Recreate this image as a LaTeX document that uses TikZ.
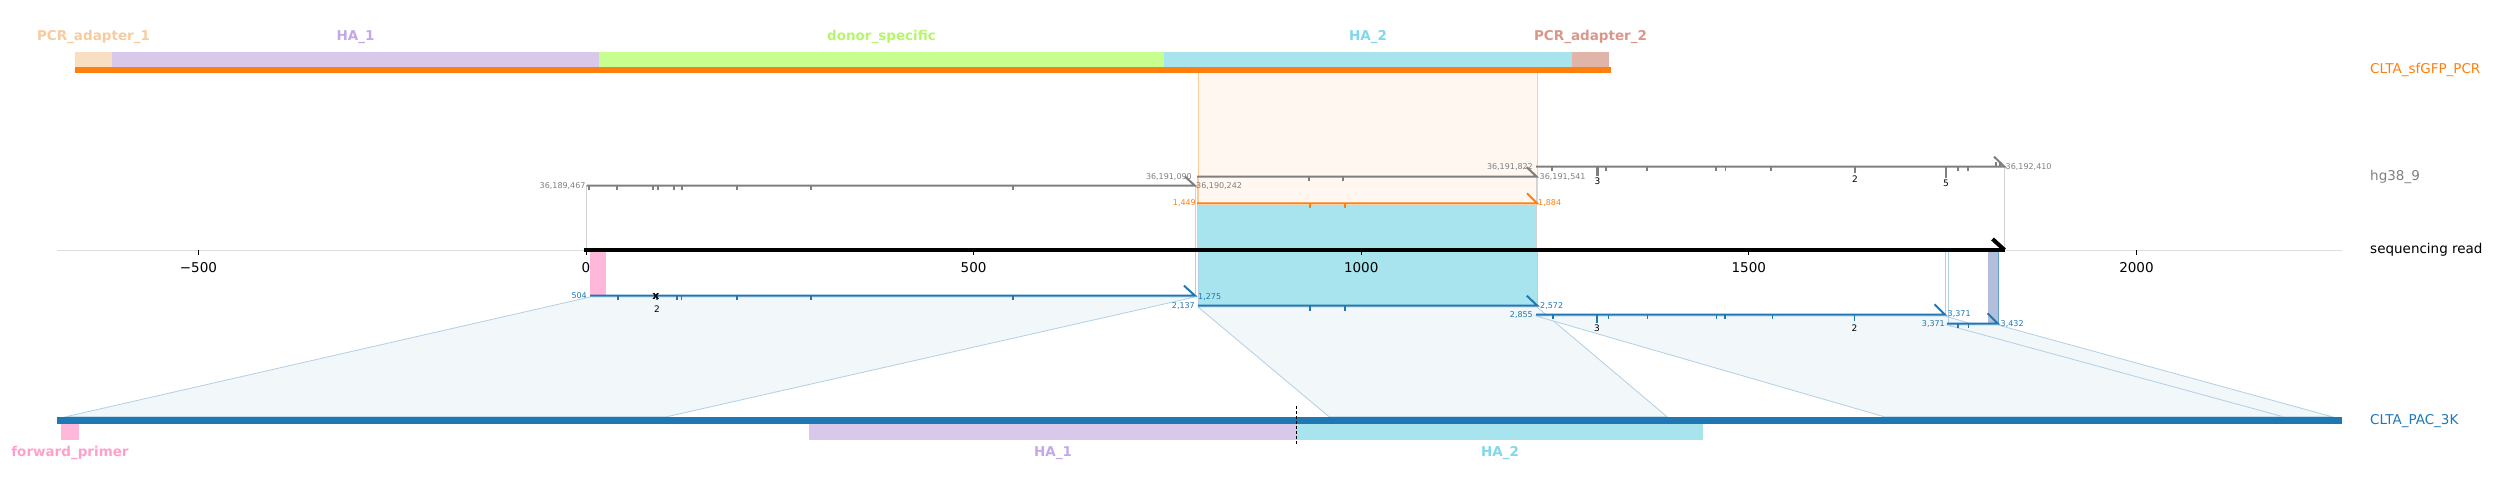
\documentclass[tikz,border=0pt]{standalone}
\usepackage{fontspec}
\setmainfont{DejaVu Sans}
\usetikzlibrary{positioning}

\definecolor{pcrorange}{HTML}{FF7F0E}
\definecolor{pacblue}{HTML}{1F77B4}
\definecolor{hggrey}{HTML}{7F7F7F}
\definecolor{adapter_one}{HTML}{F9DFC1}
\definecolor{adapter_one_txt}{HTML}{F8CB9E}
\definecolor{ha_one}{HTML}{D8C8EA}
\definecolor{ha_one_txt}{HTML}{C4A8E6}
\definecolor{donor}{HTML}{C6FF90}
\definecolor{donor_txt}{HTML}{B6F56C}
\definecolor{ha_two}{HTML}{A8E4EE}
\definecolor{ha_two_txt}{HTML}{80D8E8}
\definecolor{adapter_two}{HTML}{E0B4A9}
\definecolor{adapter_two_txt}{HTML}{D9978B}
\definecolor{primer}{HTML}{FFB8DA}
\definecolor{primer_txt}{HTML}{FFA0CC}
\definecolor{rev_box}{HTML}{B3BEDC}

\begin{document}
\begin{tikzpicture}[x=1pt, y=-1pt]
% How to define the looks used below
\tikzstyle{hg_line} = [draw=hggrey, line width=2pt]
\tikzstyle{pcr_line} = [draw=pcrorange, line width=2pt]
\tikzstyle{pac_line} = [draw=pacblue, line width=2pt]
\tikzstyle{hg_tick} = [draw=hggrey, line width=1.6pt]
\tikzstyle{pcr_tick} = [draw=pcrorange, line width=1.6pt]
\tikzstyle{pac_tick} = [draw=pacblue, line width=1.6pt]
\tikzstyle{small_label} = [font=\fontsize{8}{8}\selectfont, inner sep=1pt]
\tikzstyle{count_label} = [font=\fontsize{9}{9}\selectfont, inner sep=0pt]
\tikzstyle{feat_label} = [font=\bfseries\fontsize{13.5}{14}\selectfont, inner sep=0pt]
\tikzstyle{track_label} = [font=\fontsize{13.5}{14}\selectfont, anchor=west, inner sep=0pt]
\tikzstyle{axis_label} = [font=\fontsize{13.5}{14}\selectfont, inner sep=0pt]
\tikzstyle{guide_grey} = [draw=black!18, line width=0.8pt]
\tikzstyle{guide_blue} = [draw=pacblue!35, line width=0.8pt]
\tikzstyle{band} = [fill=pacblue!6, draw=pacblue!35, line width=0.8pt]

\useasboundingbox (0,0) rectangle (2496,492);

% Start with the shaded bands
\fill[pcrorange!6] (1198,73) rectangle (1537,203.3);
\draw[draw=pcrorange!40, line width=0.8pt] (1198,73) -- (1198,203.3);
\draw[draw=pcrorange!40, line width=0.8pt] (1537,73) -- (1537,203.3);

\coordinate (pac_a_l) at (590,297);
\coordinate (pac_a_r) at (1195,297);
\coordinate (pac_b_l) at (1198,307);
\coordinate (pac_b_r) at (1537,307);
\coordinate (pac_c_l) at (1536,316);
\coordinate (pac_c_r) at (1945,316);
\coordinate (pac_d_l) at (1947,325);
\coordinate (pac_d_r) at (1998,325);
\coordinate (bar_a_l) at (66,416.7);
\coordinate (bar_a_r) at (667,416.7);
\coordinate (bar_b_l) at (1329,416.7);
\coordinate (bar_b_r) at (1667,416.7);
\coordinate (bar_c_l) at (1884,416.7);
\coordinate (bar_c_r) at (2283,416.7);
\coordinate (bar_d_r) at (2332,416.7);

\draw[band] (pac_a_l) -- (pac_a_r) -- (bar_a_r) -- (bar_a_l) -- cycle;
\draw[band] (pac_b_l) -- (pac_b_r) -- (bar_b_r) -- (bar_b_l) -- cycle;
\draw[band] (pac_c_l) -- (pac_c_r) -- (bar_c_r) -- (bar_c_l) -- cycle;
\draw[band] (pac_d_l) -- (pac_d_r) -- (bar_d_r) -- (bar_c_r) -- cycle;

% Feature boxes on the read
\fill[primer] (590,252) rectangle (605.6,295.7);
\fill[ha_two] (1198,205) rectangle (1537,305.7);
\fill[rev_box] (1988,252) rectangle (1998,323.7);

% Thin guides from the alignments to the read
\draw[guide_grey] (586.7,185.7) -- (586.7,250);
\draw[guide_grey] (1195,185.7) -- (1195,250);
\draw[guide_grey] (1197,176.7) -- (1197,250);
\draw[guide_grey] (1536.7,176.7) -- (1536.7,250);
\draw[guide_grey] (2004.5,166.7) -- (2004.5,250);
\draw[guide_blue] (1195,250) -- (1195,295.7);
\draw[guide_blue] (1198,250) -- (1198,305.7);
\draw[guide_blue] (1537,250) -- (1537,305.7);
\draw[guide_blue] (1945,250) -- (1945,314.7);
\draw[guide_blue] (1948.5,250) -- (1948.5,323.7);
\draw[draw=pacblue!70, line width=0.8pt] (1998,252) -- (1998,323.7);

% Top construct
\fill[adapter_one] (75,52) rectangle (112,67);
\fill[ha_one] (112,52) rectangle (599,67);
\fill[donor] (599,52) rectangle (1164,67);
\fill[ha_two] (1164,52) rectangle (1572,67);
\fill[adapter_two] (1572,52) rectangle (1609,67);
\fill[pcrorange] (75,66.7) rectangle (1611,72.7);

\node (adapter_one_lab) [feat_label, text=adapter_one_txt] at (93.5,37) {PCR\_adapter\_1};
\node (ha_one_lab) [feat_label, text=ha_one_txt] at (355.5,37) {HA\_1};
\node (donor_lab) [feat_label, text=donor_txt] at (881.5,37) {donor\_specific};
\node (ha_two_lab) [feat_label, text=ha_two_txt] at (1368,37) {HA\_2};
\node (adapter_two_lab) [feat_label, text=adapter_two_txt] at (1590.5,37) {PCR\_adapter\_2};
\node (pcr_name) [track_label, text=pcrorange] at (2370,70) {CLTA\_sfGFP\_PCR};

% hg38 alignment segments
\coordinate (hg_a_l) at (586.7,185.7);
\coordinate (hg_a_r) at (1195,185.7);
\coordinate (hg_b_l) at (1197,176.7);
\coordinate (hg_b_r) at (1536.7,176.7);
\coordinate (hg_c_l) at (1536,166.7);
\coordinate (hg_c_r) at (2004.5,166.7);
\draw[hg_line] (hg_a_l) -- (hg_a_r) -- ++(-10,-9);
\draw[hg_line] (hg_b_l) -- (hg_b_r) -- ++(-10,-9.5);
\draw[hg_line] (hg_c_l) -- (hg_c_r) -- ++(-10.5,-10);
\foreach \x in {589,617,653,658,674,682,737,811,1013}
  \draw[hg_tick] (\x,185.7) -- ++(0,4);
\foreach \x in {1309,1343}
  \draw[hg_tick] (\x,176.7) -- ++(0,4);
\foreach \x in {1552,1606,1647,1716,1725.5,1771,1958,1968}
  \draw[hg_tick] (\x,166.7) -- ++(0,4);
\foreach \x in {1996,2000}
  \draw[hg_tick] (\x,166.7) -- ++(0,-5);
\draw[hg_tick] (1855,166.7) -- ++(0,6.5);
\draw[hggrey, line width=2.4pt] (1597.5,166.7) -- ++(0,9);
\draw[hggrey, line width=2.4pt] (1946,166.7) -- ++(0,11);
\node (hg_n3) [count_label] at (1597.5,181) {3};
\node (hg_n2) [count_label] at (1855,179.5) {2};
\node (hg_n5) [count_label] at (1946,183.5) {5};

\node (hg_a_start) [small_label, text=hggrey, anchor=east] at (hg_a_l) {36,189,467};
\node (hg_a_end) [small_label, text=hggrey, anchor=west] at (hg_a_r) {36,190,242};
\node (hg_b_start) [small_label, text=hggrey, anchor=east] at (1193,176.7) {36,191,090};
\node (hg_b_end) [small_label, text=hggrey, anchor=west] at (1538.5,176.7) {36,191,541};
\node (hg_c_start) [small_label, text=hggrey, anchor=east] at (1534,166.7) {36,191,822};
\node (hg_c_end) [small_label, text=hggrey, anchor=west] at (hg_c_r) {36,192,410};
\node (hg_name) [track_label, text=hggrey] at (2370,176.7) {hg38\_9};

% CLTA_sfGFP_PCR alignment
\coordinate (pcr_l) at (1197,203.3);
\coordinate (pcr_r) at (1537,203.3);
\draw[pcr_line] (pcr_l) -- (pcr_r) -- ++(-10,-10);
\foreach \x in {1310,1345}
  \draw[pcr_tick] (\x,203.3) -- ++(0,5);
\node (pcr_start) [small_label, text=pcrorange, anchor=east] at (pcr_l) {1,449};
\node (pcr_end) [small_label, text=pcrorange, anchor=west] at (pcr_r) {1,884};

% Sequencing read axis
\coordinate (axis_l) at (57,250);
\coordinate (axis_r) at (2342,250);
\draw[draw=black!13, line width=1pt] (axis_l) -- (axis_r);
\foreach \u/\t in {-500/−500,0/0,500/500,1000/1000,1500/1500,2000/2000}{
  \draw[black, line width=0.8pt] (586+0.7752*\u,250) -- ++(0,5);
  \node[axis_label] at (586+0.7752*\u,267.3) {\t};
}
\coordinate (read_l) at (584,250);
\coordinate (read_r) at (2004.5,250);
\draw[black, line width=4pt] (read_l) -- (read_r);
\draw[black, line width=4pt] (read_r) -- ++(-12,-11);
\node (read_name) [track_label] at (2370,250) {sequencing read};

% CLTA_PAC_3K alignment segments
\coordinate (pac_a_s) at (590,295.7);
\coordinate (pac_a_e) at (1195,295.7);
\coordinate (pac_b_s) at (1198,305.7);
\coordinate (pac_b_e) at (1537.3,305.7);
\coordinate (pac_c_s) at (1536,314.7);
\coordinate (pac_c_e) at (1945,314.7);
\coordinate (pac_d_s) at (1947,323.7);
\coordinate (pac_d_e) at (1998,323.7);
\draw[pac_line] (pac_a_s) -- (pac_a_e) -- ++(-11,-10);
\draw[pac_line] (pac_b_s) -- (pac_b_e) -- ++(-10.5,-10);
\draw[pac_line] (pac_c_s) -- (pac_c_e) -- ++(-10.5,-10.4);
\draw[pac_line] (pac_d_s) -- (pac_d_e) -- ++(-10.5,-10.4);
\foreach \x in {618,657,677,681.6,737,811,1013}
  \draw[pac_tick] (\x,295.7) -- ++(0,4);
\foreach \x in {1310,1345}
  \draw[pac_tick] (\x,305.7) -- ++(0,5);
\foreach \x in {1552.7,1608.6,1647.4,1716.6,1724.9,1772.5}
  \draw[pac_tick] (\x,314.7) -- ++(0,4);
\draw[pacblue, line width=2pt] (1596.5,314.7) -- ++(0,8);
\draw[pacblue, line width=1.8pt] (1854.4,314.7) -- ++(0,6);
\foreach \x in {1958,1968.4}
  \draw[pac_tick] (\x,323.7) -- ++(0,4);
\node (pac_x) [font=\fontsize{11}{11}\selectfont\bfseries, inner sep=0pt] at (656,296) {x};
\node (pac_n2a) [count_label] at (657,309.5) {2};
\node (pac_n3) [count_label] at (1597,328.5) {3};
\node (pac_n2b) [count_label] at (1854.5,328) {2};

\node (pac_a_start) [small_label, text=pacblue, anchor=east] at (588,295.7) {504};
\node (pac_a_end) [small_label, text=pacblue, anchor=west] at (1197,296.7) {1,275};
\node (pac_b_start) [small_label, text=pacblue, anchor=east] at (1196,305.7) {2,137};
\node (pac_b_end) [small_label, text=pacblue, anchor=west] at (1539,305.7) {2,572};
\node (pac_c_start) [small_label, text=pacblue, anchor=east] at (1534,314.7) {2,855};
\node (pac_c_end) [small_label, text=pacblue, anchor=west] at (1946.5,313.7) {3,371};
\node (pac_d_start) [small_label, text=pacblue, anchor=east] at (1946,323.7) {3,371};
\node (pac_d_end) [small_label, text=pacblue, anchor=west] at (1999.5,323.7) {3,432};

% Bottom construct
\fill[pacblue] (57,416.7) rectangle (2341.6,424);
\fill[primer] (61,424) rectangle (79,440);
\fill[ha_one] (809,424) rectangle (1297,440);
\fill[ha_two] (1297,424) rectangle (1703,440);
\draw[black, line width=1pt, dash pattern=on 3pt off 2pt] (1296,406) -- (1296,444);
\node (primer_lab) [feat_label, text=primer_txt] at (70,453.3) {forward\_primer};
\node (ha_one_low) [feat_label, text=ha_one_txt] at (1053,453.3) {HA\_1};
\node (ha_two_low) [feat_label, text=ha_two_txt] at (1500,453.3) {HA\_2};
\node (pac_name) [track_label, text=pacblue] at (2370,421.3) {CLTA\_PAC\_3K};
\end{tikzpicture}
\end{document}
